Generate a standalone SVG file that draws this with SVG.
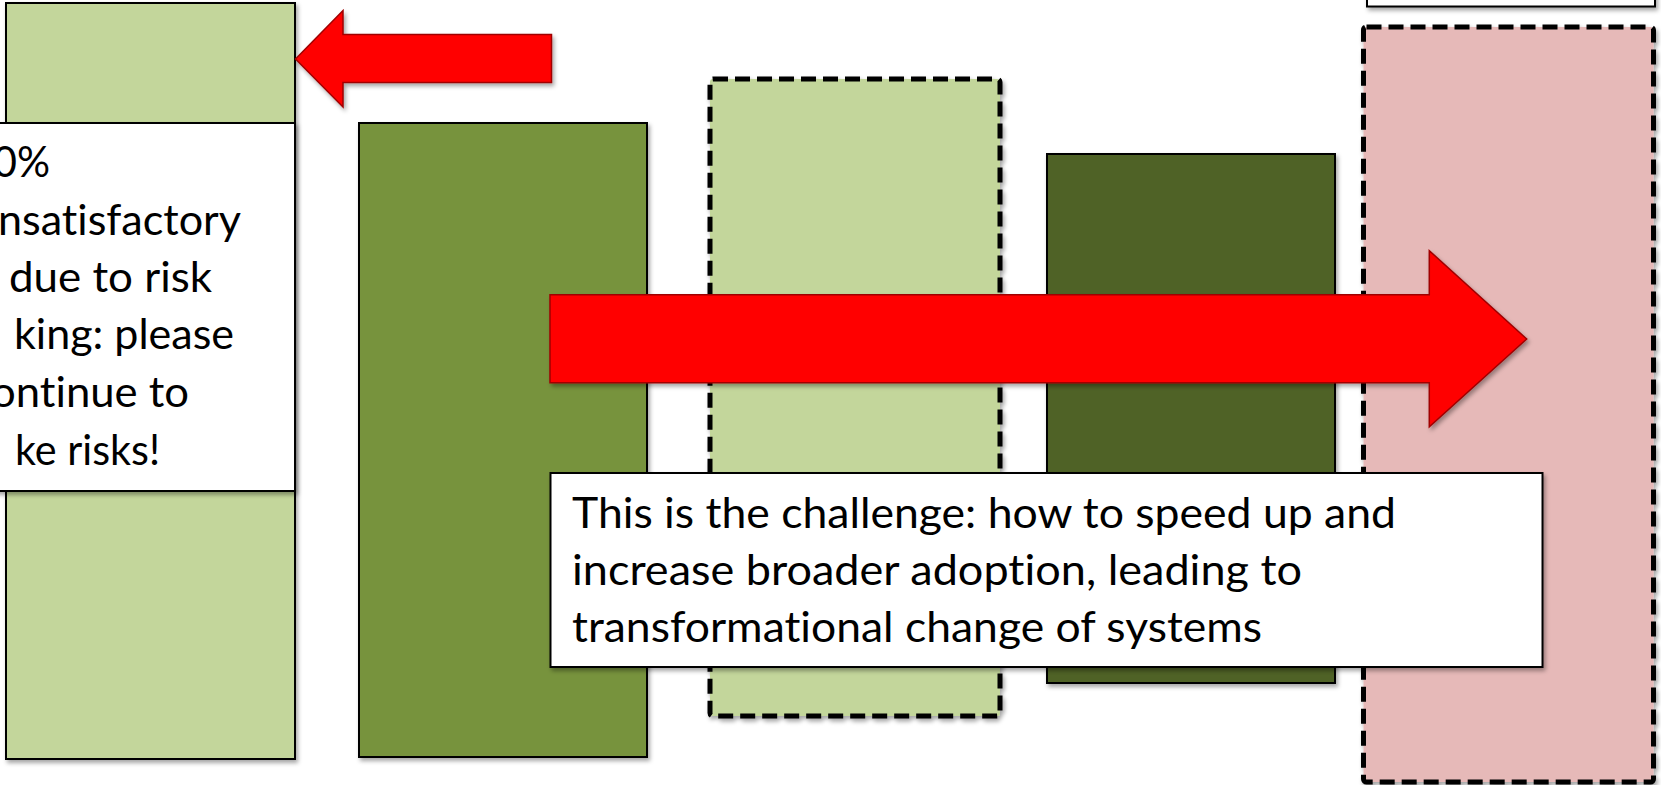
<svg xmlns="http://www.w3.org/2000/svg" width="1661" height="785" viewBox="0 0 1661 785">
  <defs>
    <filter id="sh" x="-10%" y="-10%" width="130%" height="130%">
      <feDropShadow dx="2" dy="3" stdDeviation="2" flood-color="#000" flood-opacity="0.35"/>
    </filter>
    <style>
      .box { stroke: #000; stroke-width: 2; filter: url(#sh); }
      .dash { stroke: #000; stroke-width: 5; stroke-dasharray: 15 7; filter: url(#sh); }
      .light { fill: #C3D69B; }
      .olive { fill: #77933C; }
      .dark { fill: #4F6228; }
      .pink { fill: #E6B9B8; }
      .white { fill: #FFFFFF; }
      .arrow { fill: #FF0000; stroke: #A00000; stroke-width: 1.5; stroke-linejoin: miter; filter: url(#sh); }
      .t { font-family: Lato, "Open Sans", "Liberation Sans", sans-serif; font-size: 42px; fill: #000; font-variant-ligatures: none; font-feature-settings: "liga" 0, "clig" 0; }
    </style>
  </defs>
  <rect width="1661" height="785" fill="#FFFFFF"/>

  <g id="bar1">
    <rect class="box light" x="6" y="3" width="289" height="756"/>
  </g>

  <g id="note1">
    <rect class="box white" x="-20" y="123" width="315" height="368"/>
    <text class="t" x="50" y="177" text-anchor="end" textLength="57" lengthAdjust="spacingAndGlyphs">0%</text>
    <text class="t" x="241" y="235" text-anchor="end" textLength="243" lengthAdjust="spacingAndGlyphs">nsatisfactory</text>
    <text class="t" x="9" y="292" textLength="203" lengthAdjust="spacingAndGlyphs">due to risk</text>
    <text class="t" x="14" y="349" textLength="220" lengthAdjust="spacingAndGlyphs">king: please</text>
    <text class="t" x="189" y="407" text-anchor="end" textLength="198" lengthAdjust="spacingAndGlyphs">ontinue to</text>
    <text class="t" x="15" y="465" textLength="145" lengthAdjust="spacingAndGlyphs">ke risks!</text>
  </g>

  <g id="bar2">
    <rect class="box olive" x="359" y="123" width="288" height="634"/>
  </g>

  <g id="bar3">
    <rect class="dash light" x="710" y="79" width="290" height="637" rx="3"/>
  </g>

  <g id="bar4">
    <rect class="box dark" x="1047" y="154" width="288" height="529"/>
  </g>

  <g id="bar5">
    <rect class="dash pink" x="1363.5" y="27" width="290" height="755" rx="3"/>
  </g>

  <g id="topbox">
    <rect class="box white" x="1367" y="-40" width="288" height="46.5"/>
  </g>

  <g id="connectors">
    <polygon id="arrow-left" class="arrow" points="295.5,59 343,10.5 343,34.5 551.5,34.5 551.5,82.5 343,82.5 343,107"/>
    <polygon id="arrow-right" class="arrow" points="550,294.7 1429.3,294.7 1429.3,250.7 1526.7,339 1429.3,426.7 1429.3,382.7 550,382.7"/>
  </g>

  <g id="note2">
    <rect class="box white" x="550.5" y="473" width="992" height="194"/>
    <text class="t" x="572" y="528" textLength="824" lengthAdjust="spacingAndGlyphs">This is the challenge: how to speed up and</text>
    <text class="t" x="572" y="585" textLength="730" lengthAdjust="spacingAndGlyphs">increase broader adoption, leading to</text>
    <text class="t" x="572" y="642" textLength="690" lengthAdjust="spacingAndGlyphs">transformational change of systems</text>
  </g>
</svg>
